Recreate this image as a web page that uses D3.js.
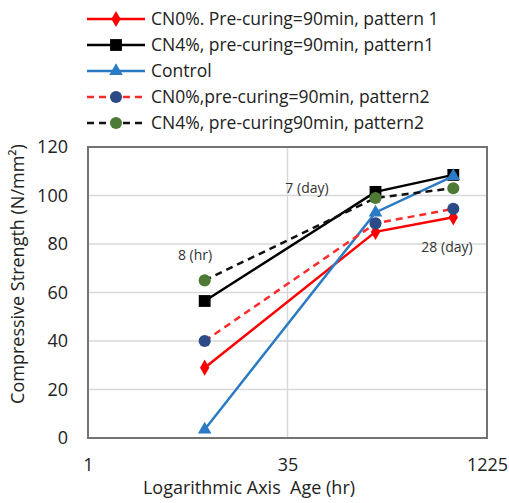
<!DOCTYPE html>
<html>
<head>
<meta charset="utf-8">
<script src="https://cdn.jsdelivr.net/npm/d3@7"></script>
<style>
  body { margin: 0; background: #fff; }
  text { font-family: "Open Sans", sans-serif; white-space: pre; }
</style>
</head>
<body>
<svg id="chart"></svg>
<script>
// ages in hours (8 hr, 7 day, 28 day)
const ages = [8, 168, 672];
const ageLabels = ["8 (hr)", "7 (day)", "28 (day)"];
const xTicks = [1, 35, 1225];
const yTicks = [0, 20, 40, 60, 80, 100, 120];

const seriesNames = [
  "CN0%. Pre-curing=90min, pattern 1",
  "CN4%, pre-curing=90min, pattern1",
  "Control",
  "CN0%,pre-curing=90min, pattern2",
  "CN4%, pre-curing90min, pattern2"
];
const cn0p1 = [29, 85, 91];
const cn4p1 = [56.5, 101.5, 108.5];
const control = [3.5, 93, 108];
const cn0p2 = [40, 88.5, 94.5];
const cn4p2 = [65, 99, 103];

const styles = [
  {line: "#ff0000", fill: "#ff0000", shape: d3.symbolDiamond, size: 75, dash: null},
  {line: "#000000", fill: "#000000", shape: d3.symbolSquare, size: 140, dash: null},
  {line: "#2a7ac4", fill: "#2a7ac4", shape: d3.symbolTriangle, size: 80, dash: null},
  {line: "#ff2a2a", fill: "#2c4a86", shape: d3.symbolCircle, size: 115, dash: "7,5"},
  {line: "#111111", fill: "#4f7a35", shape: d3.symbolCircle, size: 115, dash: "7,5"}
];
const seriesValues = [cn0p1, cn4p1, control, cn0p2, cn4p2];

const W = 509, H = 503;
const svg = d3.select("#chart").attr("width", W).attr("height", H);

const x = d3.scaleLog().base(35).domain([1, 1225]).range([88, 487]);
const y = d3.scaleLinear().domain([0, 120]).range([438, 147]);

// grid
svg.append("g").selectAll("line").data(yTicks.slice(1)).join("line")
  .attr("x1", x(1)).attr("x2", x(1225))
  .attr("y1", d => y(d)).attr("y2", d => y(d))
  .attr("stroke", "#d9d9d9").attr("stroke-width", 1.5);
svg.append("line")
  .attr("x1", x(35)).attr("x2", x(35)).attr("y1", y(0)).attr("y2", y(120))
  .attr("stroke", "#d9d9d9").attr("stroke-width", 1.5);

// plot border
svg.append("rect")
  .attr("x", x(1)).attr("y", y(120))
  .attr("width", x(1225) - x(1)).attr("height", y(0) - y(120))
  .attr("fill", "none").attr("stroke", "#737373").attr("stroke-width", 2);

// axes
const xAxis = svg.append("g").attr("transform", `translate(0,${y(0)})`)
  .call(d3.axisBottom(x).tickValues(xTicks).tickFormat(d3.format("d")).tickSize(0).tickPadding(20));
const yAxis = svg.append("g").attr("transform", `translate(${x(1)},0)`)
  .call(d3.axisLeft(y).tickValues(yTicks).tickSize(0).tickPadding(20));
[xAxis, yAxis].forEach(a => {
  a.select(".domain").remove();
  a.selectAll("text").attr("font-size", 18).attr("fill", "#222")
    .style("font-family", "'Open Sans', sans-serif");
});

// axis titles
svg.append("text").attr("x", 249).attr("y", 494).attr("text-anchor", "middle")
  .attr("font-size", 18).attr("fill", "#222").text("Logarithmic Axis  Age (hr)");
svg.append("text").attr("transform", "translate(24,274) rotate(-90)")
  .attr("text-anchor", "middle").attr("font-size", 18).attr("fill", "#222")
  .text("Compressive Strength (N/mm²)");

// series
const line = d3.line().x((d, i) => x(ages[i])).y(d => y(d));
seriesValues.forEach((vals, k) => {
  const s = styles[k];
  svg.append("path").datum(vals)
    .attr("fill", "none").attr("stroke", s.line).attr("stroke-width", 2.5)
    .attr("stroke-dasharray", s.dash).attr("d", line);
  svg.append("g").selectAll("path").data(vals).join("path")
    .attr("transform", (d, i) => `translate(${x(ages[i])},${y(d)})`)
    .attr("d", d3.symbol(s.shape, s.size)).attr("fill", s.fill);
});

// age annotations
const annPos = [[195, 260], [307, 193], [447, 252]];
svg.append("g").selectAll("text").data(ageLabels).join("text")
  .attr("x", (d, i) => annPos[i][0]).attr("y", (d, i) => annPos[i][1])
  .attr("text-anchor", "middle").attr("font-size", 14).attr("fill", "#333")
  .text(d => d);

// legend
const leg = svg.append("g");
seriesNames.forEach((name, k) => {
  const s = styles[k];
  const ly = 19 + k * 26;
  leg.append("line").attr("x1", 87).attr("x2", 145).attr("y1", ly).attr("y2", ly)
    .attr("stroke", s.line).attr("stroke-width", 2.5).attr("stroke-dasharray", s.dash);
  leg.append("path").attr("transform", `translate(116,${ly})`)
    .attr("d", d3.symbol(s.shape, s.size)).attr("fill", s.fill);
  leg.append("text").attr("x", 151).attr("y", ly).attr("dy", "0.35em")
    .attr("font-size", 17.5).attr("fill", "#222").text(name);
});
</script>
</body>
</html>
